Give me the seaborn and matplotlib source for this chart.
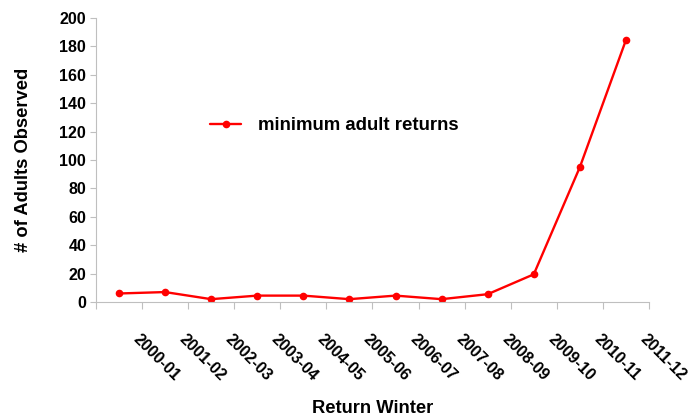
import numpy as np
import pandas as pd
import matplotlib
matplotlib.use('Agg')
import matplotlib.pyplot as plt
import matplotlib.transforms as mtransforms
import seaborn as sns

winters = ['2000-01', '2001-02', '2002-03', '2003-04', '2004-05', '2005-06',
           '2006-07', '2007-08', '2008-09', '2009-10', '2010-11', '2011-12']
adults = [6, 7, 2, 4.5, 4.5, 2, 4.5, 2, 5.5, 19.5, 95, 184.5]
y_ticks = [0, 20, 40, 60, 80, 100, 120, 140, 160, 180, 200]

sns.set_style('white')
plt.rcParams['font.family'] = ['Liberation Sans', 'DejaVu Sans']
plt.rcParams['font.weight'] = 'bold'
plt.rcParams['text.color'] = 'black'
plt.rcParams['axes.labelcolor'] = 'black'
plt.rcParams['xtick.color'] = '#bfbfbf'
plt.rcParams['ytick.color'] = '#bfbfbf'
plt.rcParams['xtick.labelcolor'] = 'black'
plt.rcParams['ytick.labelcolor'] = 'black'

df = pd.DataFrame({'winter': winters, 'adults': adults})

fig = plt.figure(figsize=(6.9, 4.18), dpi=100)
ax = fig.add_axes([0.139, 0.2775, 0.8016, 0.6795])

sns.lineplot(data=df, x='winter', y='adults', ax=ax, color='#ff0000',
             marker='o', markersize=5.5, markeredgewidth=0, linewidth=1.7,
             label='minimum adult returns')

n = len(winters)
ax.set_xlim(-0.5, n - 0.5)
ax.set_ylim(0, 200)
ax.set_yticks(y_ticks)
ax.set_xticks(range(n))
ax.set_xticklabels(winters, rotation=-45, ha='left', va='top',
                   rotation_mode='anchor', fontsize=11.5, fontweight='bold')
ax.set_xticks(np.arange(-0.5, n, 1.0), minor=True)
ax.tick_params(axis='x', which='major', bottom=True, length=0, pad=0)
ax.tick_params(axis='x', which='minor', bottom=True, length=5, width=0.8)
ax.tick_params(axis='y', left=True, length=4, width=0.8, pad=3,
               labelsize=11.5)
for lab in ax.get_yticklabels():
    lab.set_fontweight('bold')

offset = mtransforms.ScaledTranslation(0.22, -0.30, fig.dpi_scale_trans)
for lab in ax.get_xticklabels():
    lab.set_transform(lab.get_transform() + offset)

for s in ['top', 'right']:
    ax.spines[s].set_visible(False)
for s in ['left', 'bottom']:
    ax.spines[s].set_color('#bfbfbf')
    ax.spines[s].set_linewidth(0.8)

ax.set_xlabel('Return Winter', fontsize=13.2, fontweight='bold')
ax.set_ylabel('# of Adults Observed', fontsize=13.2, fontweight='bold')
ax.xaxis.set_label_coords(0.5, -0.345)
ax.yaxis.set_label_coords(-0.115, 0.5)

ax.legend(loc='center left', bbox_to_anchor=(0.19, 0.62), frameon=False,
          borderpad=0, handlelength=1.65, handletextpad=0.9,
          prop={'size': 13.4, 'weight': 'bold'})

fig.savefig('out.png', dpi=100)
